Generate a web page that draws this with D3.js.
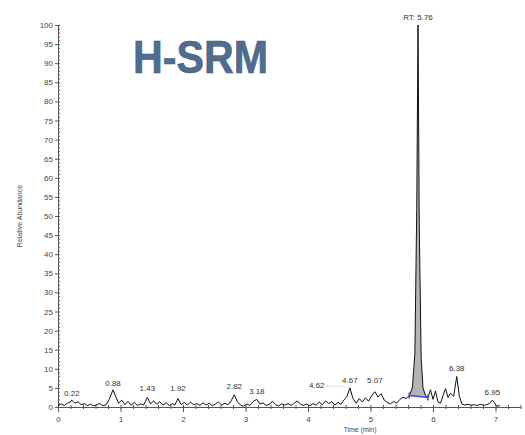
<!DOCTYPE html>
<html>
<head>
<meta charset="utf-8">
<script src="https://cdn.jsdelivr.net/npm/d3@7"></script>
<style>
  body { margin: 0; background: #fff; }
  text { font-family: "Liberation Sans", Arial, sans-serif; }
  .axis text { font-size: 8px; fill: #444; }
  .axis path, .axis line { stroke: #555; }
</style>
</head>
<body>
<div id="chart"></div>
<script>
// chromatogram trace: [time (min), relative abundance]
var trace = [
  [0.00,0.3],[0.05,0.8],[0.10,0.4],[0.15,1.0],[0.20,1.3],[0.22,1.8],[0.27,1.0],[0.32,1.4],
  [0.37,0.6],[0.42,0.9],[0.47,0.4],[0.52,0.7],[0.57,0.3],[0.62,0.6],[0.67,0.9],[0.72,0.3],
  [0.77,0.6],[0.82,2.0],[0.88,4.5],[0.93,2.5],[0.97,1.0],[1.02,1.8],[1.07,0.6],[1.12,1.5],
  [1.17,0.5],[1.22,1.2],[1.27,0.4],[1.32,0.8],[1.37,0.5],[1.43,2.5],[1.48,0.8],[1.53,1.6],
  [1.58,0.7],[1.63,1.4],[1.68,0.5],[1.73,1.1],[1.78,0.4],[1.83,0.9],[1.87,0.5],[1.92,2.2],
  [1.97,0.6],[2.02,1.2],[2.07,0.5],[2.12,1.3],[2.17,0.6],[2.22,0.9],[2.27,0.4],[2.32,1.1],
  [2.37,0.5],[2.42,1.0],[2.47,0.3],[2.52,0.8],[2.57,1.3],[2.62,0.5],[2.67,1.0],[2.72,0.6],
  [2.77,1.6],[2.82,3.2],[2.87,1.4],[2.92,0.5],[2.97,0.2],[3.02,0.8],[3.07,0.4],[3.12,1.4],
  [3.18,2.0],[3.23,0.8],[3.28,1.1],[3.33,0.4],[3.38,0.7],[3.43,1.5],[3.48,0.6],[3.53,0.3],
  [3.58,0.8],[3.63,0.5],[3.68,0.9],[3.73,0.4],[3.78,1.0],[3.83,1.6],[3.88,0.7],[3.93,0.4],
  [3.98,0.8],[4.03,0.3],[4.08,0.9],[4.13,0.5],[4.18,1.3],[4.23,0.6],[4.28,1.6],[4.33,0.9],
  [4.38,1.4],[4.43,0.5],[4.48,1.2],[4.53,0.7],[4.57,1.8],[4.62,2.6],[4.67,5.0],[4.72,2.2],
  [4.77,1.0],[4.82,2.2],[4.87,1.3],[4.92,2.4],[4.97,1.5],[5.02,3.0],[5.07,4.0],[5.12,2.6],
  [5.17,3.5],[5.22,1.8],[5.27,1.2],[5.32,0.8],[5.37,1.5],[5.42,1.0],[5.47,2.0],[5.52,2.6],
  [5.57,2.2],[5.62,3.0],[5.67,5],[5.71,14],[5.74,52],[5.76,100],[5.78,48],[5.81,13],
  [5.84,5],[5.88,3.0],[5.92,2.5],[5.96,4.5],[6.00,2.0],[6.04,4.2],[6.08,1.3],[6.12,1.0],
  [6.16,3.0],[6.20,4.8],[6.24,2.5],[6.28,3.6],[6.33,2.8],[6.38,8.0],[6.42,3.0],[6.46,0.8],
  [6.51,0.5],[6.56,0.7],[6.61,0.5],[6.66,0.6],[6.71,0.4],[6.76,0.7],[6.81,0.5],[6.86,0.6],
  [6.91,1.0],[6.95,1.8],[6.98,1.2],[7.02,0.2],[7.07,0.4]
];

// labelled apex times and the height (abundance units) the label sits at
var peakTimes  = [0.22, 0.88, 1.43, 1.92, 2.82, 3.18, 4.62, 4.67, 5.07, 6.38, 6.95];
var peakLabelY = [2.9,  5.6,  4.1,  4.1,  4.6,  3.4,  4.9,  6.3,  6.3,  9.4,  3.1];
var rtLabel = "RT: 5.76";
var integration = [5.62, 5.92]; // integrated window of the main peak

var yMajor = d3.range(0, 101, 5);
var yMinor = d3.range(0, 101, 1);
var xMajor = [0, 1, 2, 3, 4, 5, 6, 7];
var xMinor = d3.range(0, 7.41, 0.2);

var svgWidth = 525;
var svgHeight = 435;

var svg = d3.select("#chart")
  .append("svg")
  .attr("width", svgWidth)
  .attr("height", svgHeight);

var x = d3.scaleLinear().domain([0, 7.4]).range([58, 520.5]);
var y = d3.scaleLinear().domain([0, 100]).range([407, 25]);

// title
svg.append("text")
  .attr("x", 133)
  .attr("y", 73)
  .attr("textLength", 135)
  .attr("lengthAdjust", "spacingAndGlyphs")
  .style("font-size", "47px")
  .style("font-weight", "bold")
  .style("fill", "#4f6d8f")
  .style("stroke", "#3b5676")
  .style("stroke-width", 0.6)
  .text("H-SRM");

// axes
svg.append("g")
  .attr("class", "axis")
  .attr("transform", "translate(58,0)")
  .call(d3.axisRight(y).tickValues(yMinor).tickSize(2).tickFormat(""))
  .select(".domain").remove();

svg.append("g")
  .attr("class", "axis")
  .attr("transform", "translate(58,0)")
  .call(d3.axisLeft(y).tickValues(yMajor).tickSizeInner(3).tickSizeOuter(0).tickPadding(2));

svg.append("g")
  .attr("class", "axis")
  .attr("transform", "translate(0,405)")
  .call(d3.axisBottom(x).tickValues(xMinor).tickSize(4).tickFormat(""))
  .select(".domain").remove();

svg.append("g")
  .attr("class", "axis")
  .attr("transform", "translate(0,407)")
  .call(d3.axisBottom(x).tickValues(xMajor).tickSizeInner(5).tickSizeOuter(0).tickPadding(4));

// axis titles
svg.append("text")
  .attr("x", 360)
  .attr("y", 432)
  .attr("text-anchor", "middle")
  .style("font-size", "7px")
  .style("fill", "#444")
  .text("Time (min)");

svg.append("text")
  .attr("transform", "translate(22,216) rotate(-90)")
  .attr("text-anchor", "middle")
  .style("font-size", "7px")
  .style("fill", "#444")
  .text("Relative Abundance");

// filled main peak
var peakPart = trace.filter(d => d[0] >= integration[0] && d[0] <= integration[1]);
var base = d3.scaleLinear().domain(integration).range([3.0, 2.5]);
svg.append("path")
  .datum(peakPart)
  .attr("fill", "#b4b4b4")
  .attr("d", d3.area()
    .x(d => x(d[0]))
    .y0(d => y(base(d[0])))
    .y1(d => y(d[1])));

// trace
svg.append("path")
  .datum(trace)
  .attr("fill", "none")
  .attr("stroke", "#111")
  .attr("stroke-width", 1)
  .attr("d", d3.line().x(d => x(d[0])).y(d => y(d[1])));

// integration baseline
svg.append("line")
  .attr("x1", x(integration[0]))
  .attr("x2", x(integration[1]))
  .attr("y1", y(base(integration[0])))
  .attr("y2", y(base(integration[1])))
  .attr("stroke", "#4444dd")
  .attr("stroke-width", 1.5);

svg.selectAll(".intTick")
  .data(integration)
  .enter().append("line")
  .attr("x1", d => x(d)).attr("x2", d => x(d))
  .attr("y1", d => y(base(d)) - 3).attr("y2", d => y(base(d)) + 3)
  .attr("stroke", "#4444dd")
  .attr("stroke-width", 1.5);

// peak labels; 4.62 collides with 4.67 so it is pushed left with a dotted leader
var shiftLeft = d => (d === 4.62 ? -30 : 0);
svg.selectAll(".peakLabel")
  .data(peakTimes)
  .enter().append("text")
  .attr("class", "peakLabel")
  .attr("x", d => x(d) + shiftLeft(d))
  .attr("y", (d, i) => y(peakLabelY[i]))
  .attr("text-anchor", "middle")
  .style("font-size", "8px")
  .style("fill", "#333")
  .text(d => d.toFixed(2));

svg.append("line")
  .attr("x1", x(4.62) - 20)
  .attr("x2", x(4.62) - 2)
  .attr("y1", y(4.9) - 2)
  .attr("y2", y(4.9) - 2)
  .attr("stroke", "#999")
  .attr("stroke-width", 0.7)
  .attr("stroke-dasharray", "1,1.5");

svg.append("text")
  .attr("x", x(5.76))
  .attr("y", 20)
  .attr("text-anchor", "middle")
  .style("font-size", "8px")
  .style("fill", "#333")
  .text(rtLabel);
</script>
</body>
</html>
